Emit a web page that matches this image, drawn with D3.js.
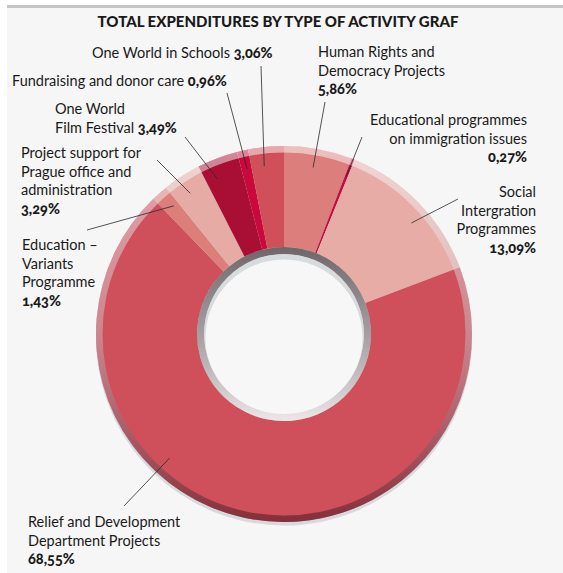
<!DOCTYPE html>
<html><head><meta charset="utf-8">
<script src="https://cdn.jsdelivr.net/npm/d3@7"></script>
<style>
body{margin:0;background:#fff}
svg{display:block}
text{font-family:Lato,"Open Sans",sans-serif;fill:#1a1a1a}
.pct{font-weight:900;font-variant-numeric:oldstyle-nums;font-feature-settings:"onum" 1}
</style></head><body>
<svg id="c" width="563" height="573"></svg>
<script>
// ---- data ----
const title = "TOTAL EXPENDITURES BY TYPE OF ACTIVITY GRAF";
const categories = [
  "Human Rights and Democracy Projects",
  "Educational programmes on immigration issues",
  "Social Intergration Programmes",
  "Relief and Development Department Projects",
  "Education – Variants Programme",
  "Project support for Prague office and administration",
  "One World Film Festival",
  "Fundraising and donor care",
  "One World in Schools"
];
const values = [5.86, 0.27, 13.09, 68.55, 1.43, 3.29, 3.49, 0.96, 3.06];
const colors = ["#dc7f7c", "#c20e3d", "#e8aca7", "#cf4f5a", "#dc7e7a", "#e7aba5", "#a90e35", "#c9093b", "#d0505a"];
const labelLines = [
  ["Human Rights and", "Democracy Projects"],
  ["Educational programmes", "on immigration issues"],
  ["Social", "Intergration", "Programmes"],
  ["Relief and Development", "Department Projects"],
  ["Education –", "Variants", "Programme"],
  ["Project support for", "Prague office and", "administration"],
  ["One World", "Film Festival"],
  ["Fundraising and donor care"],
  ["One World in Schools"]
];
const pctInline = [false, false, false, false, false, false, true, true, true];

// ---- layout (text placement, leader anchors) ----
const labelPos = [
  {x:318, y:57,  anchor:"start", lx:325, ly:102, t:0.47},
  {x:527, y:125, anchor:"end",   lx:362, ly:137, t:0.5},
  {x:536, y:197, anchor:"end",   lx:458, ly:199, t:0.57},
  {x:28,  y:527, anchor:"start", lx:124, ly:506, t:0.622},
  {x:22,  y:250, anchor:"start", lx:87,  ly:230, t:0.65},
  {x:21,  y:158, anchor:"start", lx:157, ly:160, t:0.44},
  {x:55,  y:114, anchor:"start", lx:185, ly:137, t:0.3},
  {x:12,  y:86,  anchor:"start", lx:227, ly:93,  t:0.54},
  {x:92,  y:58,  anchor:"start", lx:261, ly:66,  t:0.39}
];
const LH = 18.5, FS = 14.5;

const W = 563, H = 573;
const svg = d3.select("#c");
const defs = svg.append("defs");

const rim = defs.append("linearGradient").attr("id","rim").attr("x1",0).attr("y1",0).attr("x2",0).attr("y2",1);
rim.append("stop").attr("offset",0).attr("stop-color","#ffffff").attr("stop-opacity",0.5);
rim.append("stop").attr("offset",0.5).attr("stop-color","#c8c8cd").attr("stop-opacity",0.45);
rim.append("stop").attr("offset",1).attr("stop-color","#46141e").attr("stop-opacity",0.55);

const inner = defs.append("linearGradient").attr("id","inner").attr("x1",0).attr("y1",0).attr("x2",0).attr("y2",1);
inner.append("stop").attr("offset",0).attr("stop-color","#28181b").attr("stop-opacity",0.6);
inner.append("stop").attr("offset",0.45).attr("stop-color","#5a4a4c").attr("stop-opacity",0.45);
inner.append("stop").attr("offset",1).attr("stop-color","#fff2f4").attr("stop-opacity",0.55);

const cx = 284, cy = 334, R = 188, R0 = 87, RH = 80;
defs.append("clipPath").attr("id","hole").append("circle").attr("cx",cx).attr("cy",cy).attr("r",RH);

svg.append("rect").attr("x",7).attr("y",5).attr("width",W-7).attr("height",H-5).attr("fill","#f6f6f6");
svg.append("rect").attr("x",7).attr("y",5).attr("width",W-7).attr("height",3).attr("fill","#c5c5c5");

svg.append("text").attr("x",278).attr("y",27).attr("text-anchor","middle")
  .attr("font-weight",900).attr("font-size",15).text(title);

const g = svg.append("g").attr("transform",`translate(${cx},${cy})`);
const pie = d3.pie().sort(null).value(d => d)(values);
const arc = d3.arc().innerRadius(R0).outerRadius(R);

g.append("circle").attr("cy",3.5).attr("r",R).attr("fill","#d7dadc");
g.selectAll("path.slice").data(pie).join("path").attr("class","slice")
  .attr("d",arc).attr("fill",(d,i)=>colors[i]);

g.append("path").attr("d", d3.arc().innerRadius(R-6.5).outerRadius(R).startAngle(0).endAngle(2*Math.PI)())
  .attr("fill","url(#rim)");
g.append("path").attr("d", d3.arc().innerRadius(RH).outerRadius(R0).startAngle(0).endAngle(2*Math.PI)())
  .attr("fill","url(#inner)");

const hole = svg.append("g").attr("clip-path","url(#hole)");
hole.append("circle").attr("cx",cx).attr("cy",cy).attr("r",RH).attr("fill","#d8dbdd");
hole.append("circle").attr("cx",cx).attr("cy",cy+4).attr("r",78.5).attr("fill","#f7f7f7");

// leaders
const RL = 169;
pie.forEach((d,i) => {
  const p = labelPos[i];
  const a = d.startAngle + p.t*(d.endAngle - d.startAngle);
  svg.append("line")
    .attr("x1",p.lx).attr("y1",p.ly)
    .attr("x2",cx + RL*Math.sin(a)).attr("y2",cy - RL*Math.cos(a))
    .attr("stroke","#2a2a2a").attr("stroke-width",0.8);
});

// labels
const fmt = v => d3.format(".2f")(v).replace(".", ",") + "%";
labelLines.forEach((lines,i) => {
  const p = labelPos[i];
  const t = svg.append("text").attr("x",p.x).attr("y",p.y).attr("text-anchor",p.anchor).attr("font-size",FS);
  lines.forEach((ln,k) => {
    t.append("tspan").attr("x",p.x).attr("y",p.y + k*LH).text(ln);
    if (pctInline[i] && k === lines.length-1) {
      t.append("tspan").text(" ");
      t.append("tspan").attr("class","pct").text(fmt(values[i]));
    }
  });
  if (!pctInline[i]) {
    t.append("tspan").attr("class","pct").attr("x",p.x).attr("y",p.y + lines.length*LH).text(fmt(values[i]));
  }
});
</script>
</body></html>
